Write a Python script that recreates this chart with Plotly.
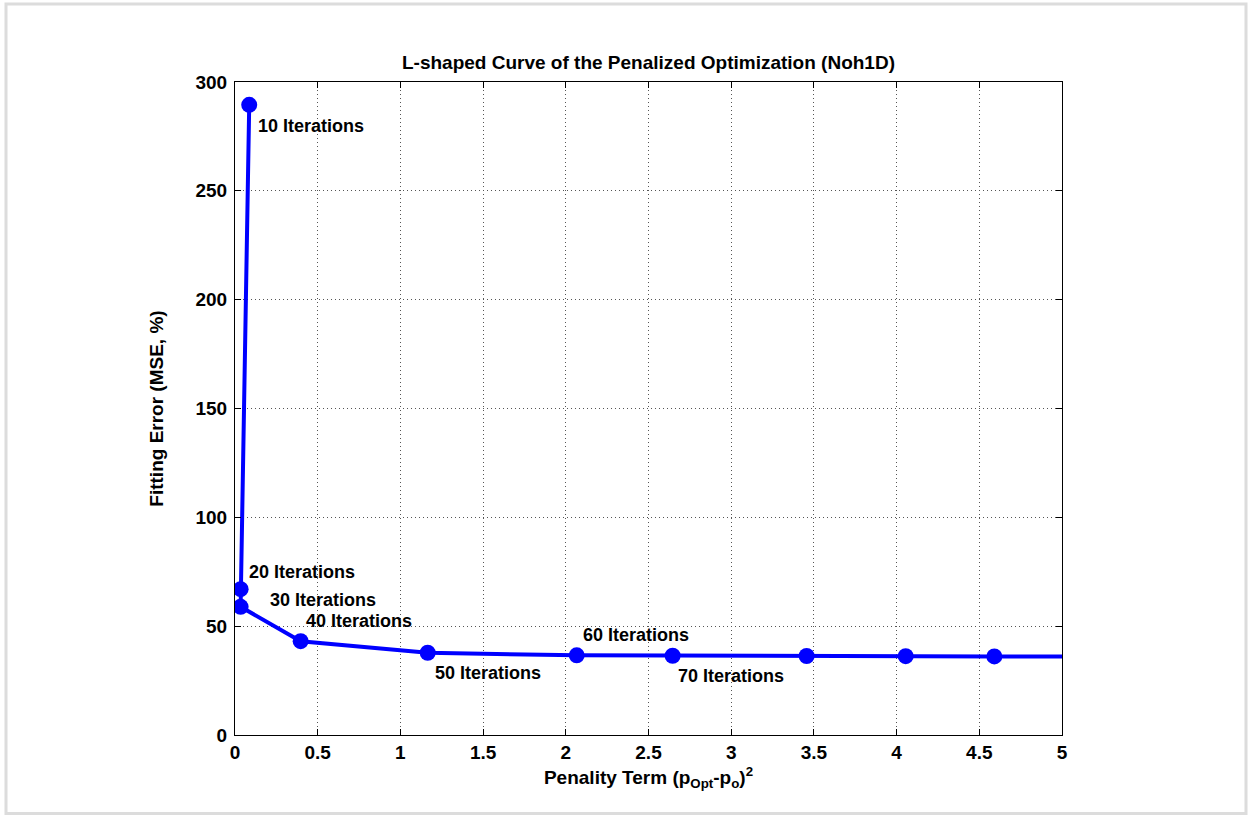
import plotly.graph_objects as go

# Data
penalty = [0.086, 0.034, 0.034, 0.397, 1.165, 2.066, 2.646, 3.456, 4.055, 4.591, 5.15]
mse = [289.5, 67.0, 58.9, 43.1, 37.8, 36.6, 36.4, 36.3, 36.2, 36.1, 36.0]

label_idx = [0, 1, 2, 3, 4, 5, 6]
label_text = ["10 Iterations", "20 Iterations", "30 Iterations", "40 Iterations",
              "50 Iterations", "60 Iterations", "70 Iterations"]
label_dx = [7, 6, 27, 3, 5, 4, 3]
label_dy = [-21, 17, 7, 20, -20, 20, -20]

x_ticks = [0, 0.5, 1, 1.5, 2, 2.5, 3, 3.5, 4, 4.5, 5]
x_ticktext = ["0", "0.5", "1", "1.5", "2", "2.5", "3", "3.5", "4", "4.5", "5"]
y_ticks = [0, 50, 100, 150, 200, 250, 300]
y_ticktext = ["0", "50", "100", "150", "200", "250", "300"]

FONT = "Liberation Sans, Arial, sans-serif"

fig = go.Figure()
fig.add_trace(go.Scatter(
    x=penalty, y=mse, mode="lines+markers",
    line=dict(color="#0000ff", width=4),
    marker=dict(color="#0000ff", size=16),
    showlegend=False, hoverinfo="skip",
))

for i, t, dx, dy in zip(label_idx, label_text, label_dx, label_dy):
    fig.add_annotation(
        x=penalty[i], y=mse[i], text="<b>" + t + "</b>", showarrow=False,
        xanchor="left", yanchor="middle", xshift=dx, yshift=dy,
        font=dict(family=FONT, size=18, color="black"),
    )

axis_common = dict(
    showline=True, linecolor="black", linewidth=1, mirror="ticks",
    ticks="inside", ticklen=6, tickcolor="black", tickwidth=1,
    showgrid=True, gridcolor="#555555", griddash="1px,3px", gridwidth=1,
    zeroline=False,
    tickfont=dict(family=FONT, size=19, color="black", weight="bold"),
)

fig.update_xaxes(
    range=[0, 5], tickvals=x_ticks, ticktext=x_ticktext,
    title=dict(text="<b>Penality Term (p<sub>Opt</sub>-p<sub>o</sub>)<sup>2</sup></b>",
               font=dict(family=FONT, size=19, color="black"), standoff=8),
    **axis_common,
)
fig.update_yaxes(
    range=[0, 300], tickvals=y_ticks, ticktext=y_ticktext,
    ticklabelstandoff=3,
    title=dict(text="<b>Fitting Error (MSE, %)</b>",
               font=dict(family=FONT, size=19, color="black"), standoff=26),
    **axis_common,
)

# light gray page frame
fig.add_shape(type="rect", xref="paper", yref="paper",
              x0=(6 - 235) / 827, x1=(1246 - 235) / 827,
              y0=(735 - 813.5) / 653, y1=(735 - 4) / 653,
              line=dict(color="#dcdcdc", width=3), fillcolor="rgba(0,0,0,0)",
              layer="below")

fig.update_layout(
    width=1251, height=825, autosize=False,
    margin=dict(l=235, r=189, t=82, b=90),
    paper_bgcolor="white", plot_bgcolor="white",
    title=dict(text="<b>L-shaped Curve of the Penalized Optimization (Noh1D)</b>",
               x=(235 + 1062) / 2 / 1251, xanchor="center",
               y=1 - 62 / 825, yanchor="middle",
               font=dict(family=FONT, size=19, color="black")),
)

fig.write_html("out.html", config={"displayModeBar": False},
               post_script="document.body.style.margin='0px';document.body.style.overflow='hidden';")
